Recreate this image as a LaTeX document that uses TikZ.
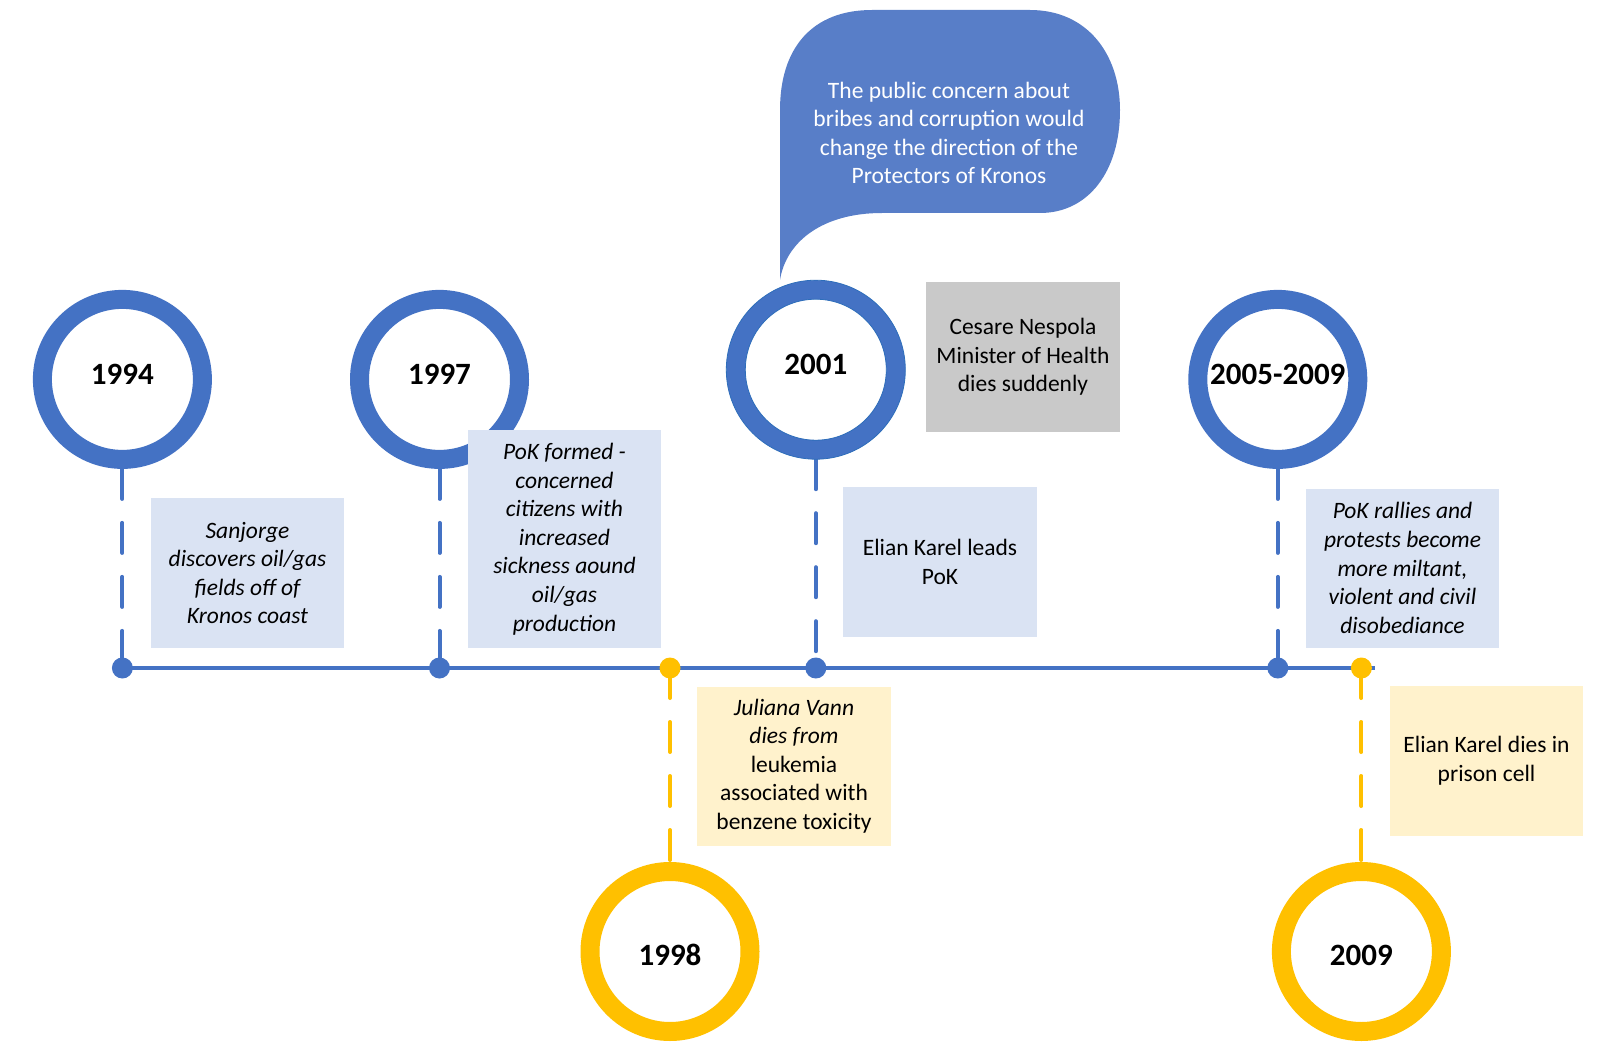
\documentclass[tikz,border=0pt]{standalone}
\usepackage{fontspec}
\setmainfont{Carlito}
\usetikzlibrary{backgrounds}
\definecolor{tlblue}{RGB}{68,114,196}
\definecolor{tlyellow}{RGB}{255,192,0}
\definecolor{boxblue}{RGB}{218,227,243}
\definecolor{boxyellow}{RGB}{255,242,204}
\definecolor{boxgray}{RGB}{201,201,201}
\definecolor{bubblefill}{RGB}{88,126,200}
\definecolor{ringedge}{RGB}{46,110,186}
\begin{document}
\begin{tikzpicture}[x=1pt,y=-1pt,
  ring/.style={circle, draw=#1, line width=19pt, fill=white, minimum size=160pt,
    inner sep=0pt, font=\fontsize{31}{36}\selectfont\bfseries},
  upring/.style={ring=tlblue, text depth=10pt},
  downring/.style={ring=tlyellow, text height=28pt},
  tdot/.style={circle, fill=#1, minimum size=21pt, inner sep=0pt},
  stem/.style={draw=#1, line width=4pt, line cap=round, dash pattern=on 30pt off 24pt},
  note/.style={fill=#1, minimum width=193pt, inner sep=0pt, align=center,
    font=\fontsize{23.5}{28.6}\selectfont},
  txt/.style={align=center, font=\fontsize{23.5}{28.6}\selectfont}
]
\useasboundingbox (0,0) rectangle (1599,1051);

% dots on the main line
\node[tdot=tlblue]   (d1994) at (122.4,668) {};
\node[tdot=tlblue]   (d1997) at (439.5,668) {};
\node[tdot=tlyellow] (d1998) at (670,668) {};
\node[tdot=tlblue]   (d2001) at (815.8,668) {};
\node[tdot=tlblue]   (d2005) at (1277.8,668) {};
\node[tdot=tlyellow] (d2009) at (1361.4,668) {};
\coordinate (lineend) at (1374.7,668);

% year rings
\node[upring]   (y1994) at (122.4,379.4) {1994};
\node[upring]   (y1997) at (439.5,379.4) {1997};
\node[upring]   (y2001) at (815.8,369.7) {2001};
\node[upring]   (y2005) at (1277.8,379.4) {2005-2009};
\node[downring] (y1998) at (670,951.5) {1998};
\node[downring] (y2009) at (1361.4,951.5) {2009};
\draw[ringedge, line width=0.8pt] (y2001.center) circle (89.5pt) (y2001.center) circle (70.5pt);

% main line and dashed stems, behind dots and rings
\begin{scope}[on background layer]
\draw[tlblue, line width=4pt] (d1994.center) -- (lineend);
\draw[stem=tlblue]   (y1994.south) -- (d1994.center);
\draw[stem=tlblue]   (y1997.south) -- (d1997.center);
\draw[stem=tlblue]   (y2001.south) -- (d2001.center);
\draw[stem=tlblue]   (y2005.south) -- (d2005.center);
\draw[stem=tlyellow] (d1998.center) -- (y1998.north);
\draw[stem=tlyellow] (d2009.center) -- (y2009.north);
\end{scope}

% event notes
\node[note=boxblue, minimum height=150pt] (n1994) at (247.5,573)
  {\itshape Sanjorge\\\itshape discovers oil/gas\\\itshape fields off of\\\itshape Kronos coast};
\node[note=boxblue, minimum height=218pt] (n1997) at (564.5,539)
  {\itshape PoK formed -\\\itshape concerned\\\itshape citizens with\\\itshape increased\\\itshape sickness aound\\\itshape oil/gas\\\itshape production};
\node[note=boxyellow, minimum height=159pt, minimum width=194pt] (n1998) at (794,766)
  {\itshape Juliana Vann\\\itshape dies from\\leukemia\\associated with\\benzene toxicity};
\node[note=boxgray, minimum height=150pt, minimum width=194pt] (nCesare) at (1023,357)
  {Cesare Nespola\\Minister of Health\\dies suddenly};
\node[note=boxblue, minimum height=150pt, minimum width=194pt] (n2001) at (940,562)
  {Elian Karel leads\\PoK};
\node[note=boxblue, minimum height=159pt] (n2005) at (1402.5,568)
  {\itshape PoK rallies and\\\itshape protests become\\\itshape more miltant,\\\itshape violent and civil\\\itshape disobediance};
\node[note=boxyellow, minimum height=150pt] (n2009) at (1486.5,761)
  {Elian Karel dies in\\prison cell};

% speech bubble above 2001
\coordinate (tip) at (780,280);
\fill[bubblefill] (tip) -- (780,110) .. controls (780,48) and (812,10) .. (872,10)
  -- (1030,10) .. controls (1088,10) and (1120,55) .. (1120,110)
  .. controls (1120,172) and (1088,213) .. (1040,213)
  -- (882,213) .. controls (822,213) and (786,242) .. (tip) -- cycle;
\node[txt, text=white] (bubble) at (949,133)
  {The public concern about\\bribes and corruption would\\change the direction of the\\Protectors of Kronos};
\end{tikzpicture}
\end{document}
